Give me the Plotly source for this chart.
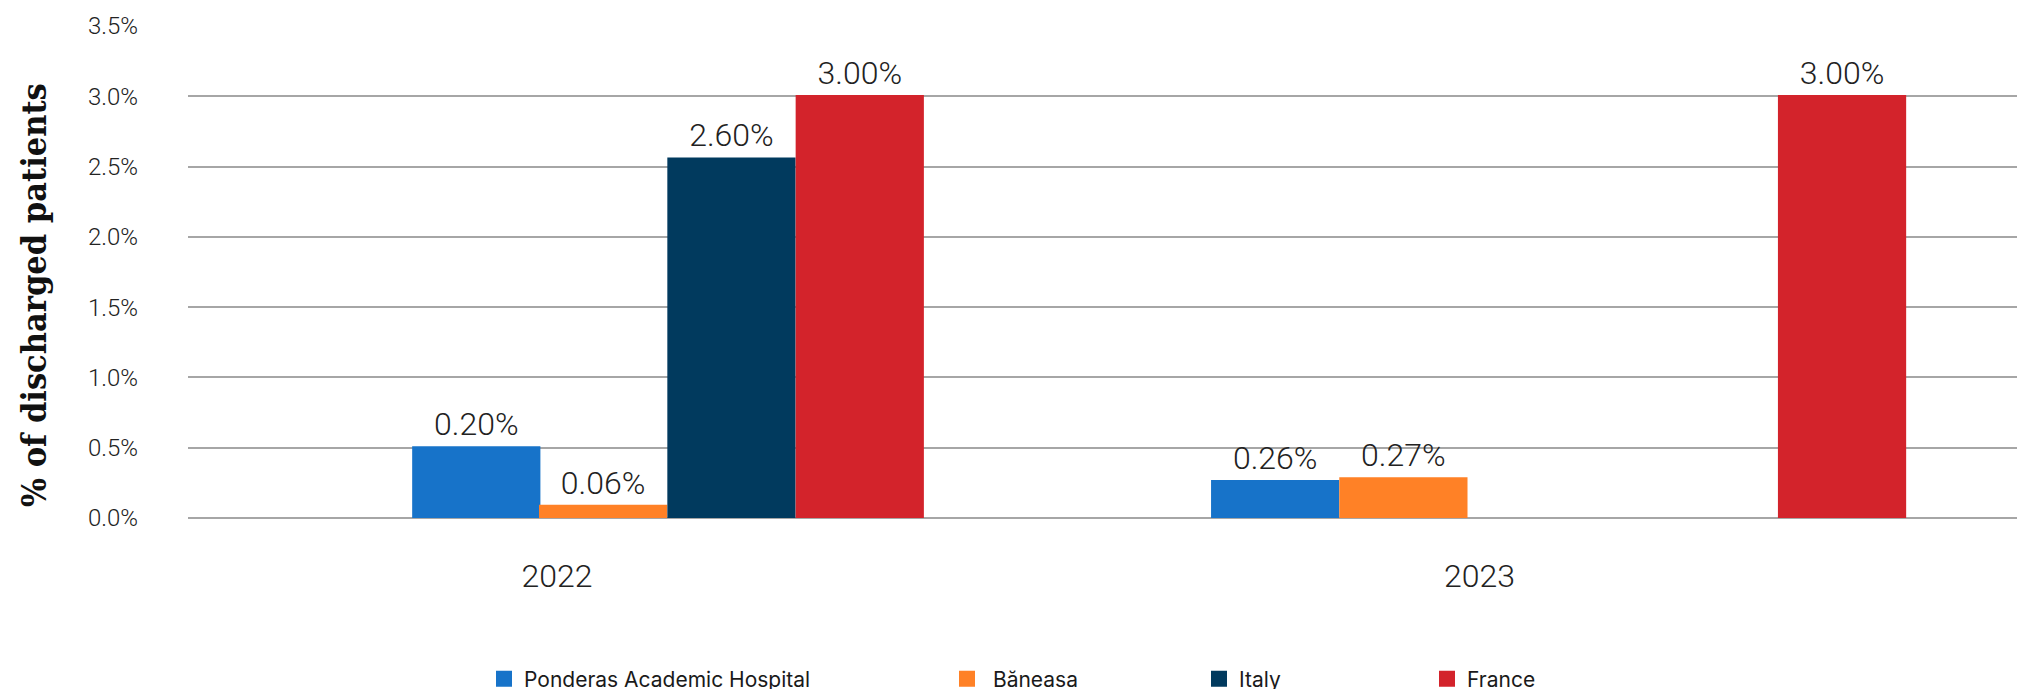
import plotly.graph_objects as go

# ---- data ----
years = ["2022", "2023"]
series_names = ["Ponderas Academic Hospital", " Băneasa", "Italy", "France"]
ponderas = [0.51, 0.27]
baneasa = [0.095, 0.29]
italy = [2.565, None]
france = [3.01, 3.01]
ponderas_labels = ["0.20%", "0.26%"]
baneasa_labels = ["0.06%", "0.27%"]
italy_labels = ["2.60%", ""]
france_labels = ["3.00%", "3.00%"]
y_ticks = [0.0, 0.5, 1.0, 1.5, 2.0, 2.5, 3.0, 3.5]
y_tick_labels = ["0.0%", "0.5%", "1.0%", "1.5%", "2.0%", "2.5%", "3.0%", "3.5%"]

# ---- style ----
colors = ["#1773C9", "#FF8126", "#013A5E", "#D3232B"]
bar_w = 0.139
offsets = [[-0.157, -0.291], [-0.0195, -0.152], [0.1196, 0.0], [0.2587, 0.3235]]
legend_x_px = [476, 939, 1191, 1419]
W, H = 2025, 689
ML, MR, MT, MB = 180, 0, 18, 179

LIGHT = "Roboto"
values = [ponderas, baneasa, italy, france]
labels = [ponderas_labels, baneasa_labels, italy_labels, france_labels]

fig = go.Figure()
for i, (name, vals, labs) in enumerate(zip(series_names, values, labels)):
    fig.add_trace(go.Bar(
        x=years, y=vals, name=name,
        marker=dict(color=colors[i], line=dict(width=0)),
        width=bar_w, offset=offsets[i],
        text=labs, textposition="outside",
        textfont=dict(family=LIGHT, size=32, color="#222222", weight=300),
        cliponaxis=False, showlegend=False,
        hoverinfo="skip",
    ))

# legend entries (square swatches)
for i, name in enumerate(series_names):
    lname = "legend" if i == 0 else f"legend{i+1}"
    fig.add_trace(go.Scatter(
        x=[None], y=[None], mode="markers", name=name,
        marker=dict(symbol="square", size=16, color=colors[i]),
        legend=lname, showlegend=True, hoverinfo="skip",
    ))

layout_legends = {}
for i in range(4):
    key = "legend" if i == 0 else f"legend{i+1}"
    layout_legends[key] = dict(
        x=legend_x_px[i] / W, xref="container", xanchor="left",
        y=(H - 671) / H, yref="container", yanchor="middle",
        orientation="h", bgcolor="rgba(0,0,0,0)",
        font=dict(family="Inter", size=21, color="#1a1a1a"),
        itemclick=False, itemdoubleclick=False,
    )

fig.update_layout(
    width=W, height=H,
    margin=dict(l=ML, r=MR, t=MT, b=MB, autoexpand=False),
    paper_bgcolor="white", plot_bgcolor="white",
    barmode="overlay",
    showlegend=True,
    **layout_legends,
    xaxis=dict(
        type="category", range=[-0.4, 1.6],
        showgrid=False, zeroline=False, showline=False,
        tickfont=dict(family=LIGHT, size=32, color="#222222", weight=300),
        ticks="", ticklabelstandoff=36,
    ),
    yaxis=dict(
        range=[0, 3.5], tickvals=y_ticks, ticktext=y_tick_labels,
        showgrid=True, gridcolor="#A6A6A6", gridwidth=2,
        zeroline=True, zerolinecolor="#A6A6A6", zerolinewidth=2,
        showline=False, ticks="", ticklabelstandoff=49,
        tickfont=dict(family=LIGHT, size=24, color="#222222", weight=300),
    ),
    annotations=[dict(
        text="% of discharged patients", textangle=-90,
        x=(26 - ML) / (W - ML - MR), xref="paper", xanchor="center",
        y=(H - MB - 287) / (H - MB - MT), yref="paper", yanchor="middle",
        showarrow=False,
        font=dict(family="DejaVu Serif Condensed", size=34, color="#111111", weight=700),
    )],
)

fig.write_html("out.html")
